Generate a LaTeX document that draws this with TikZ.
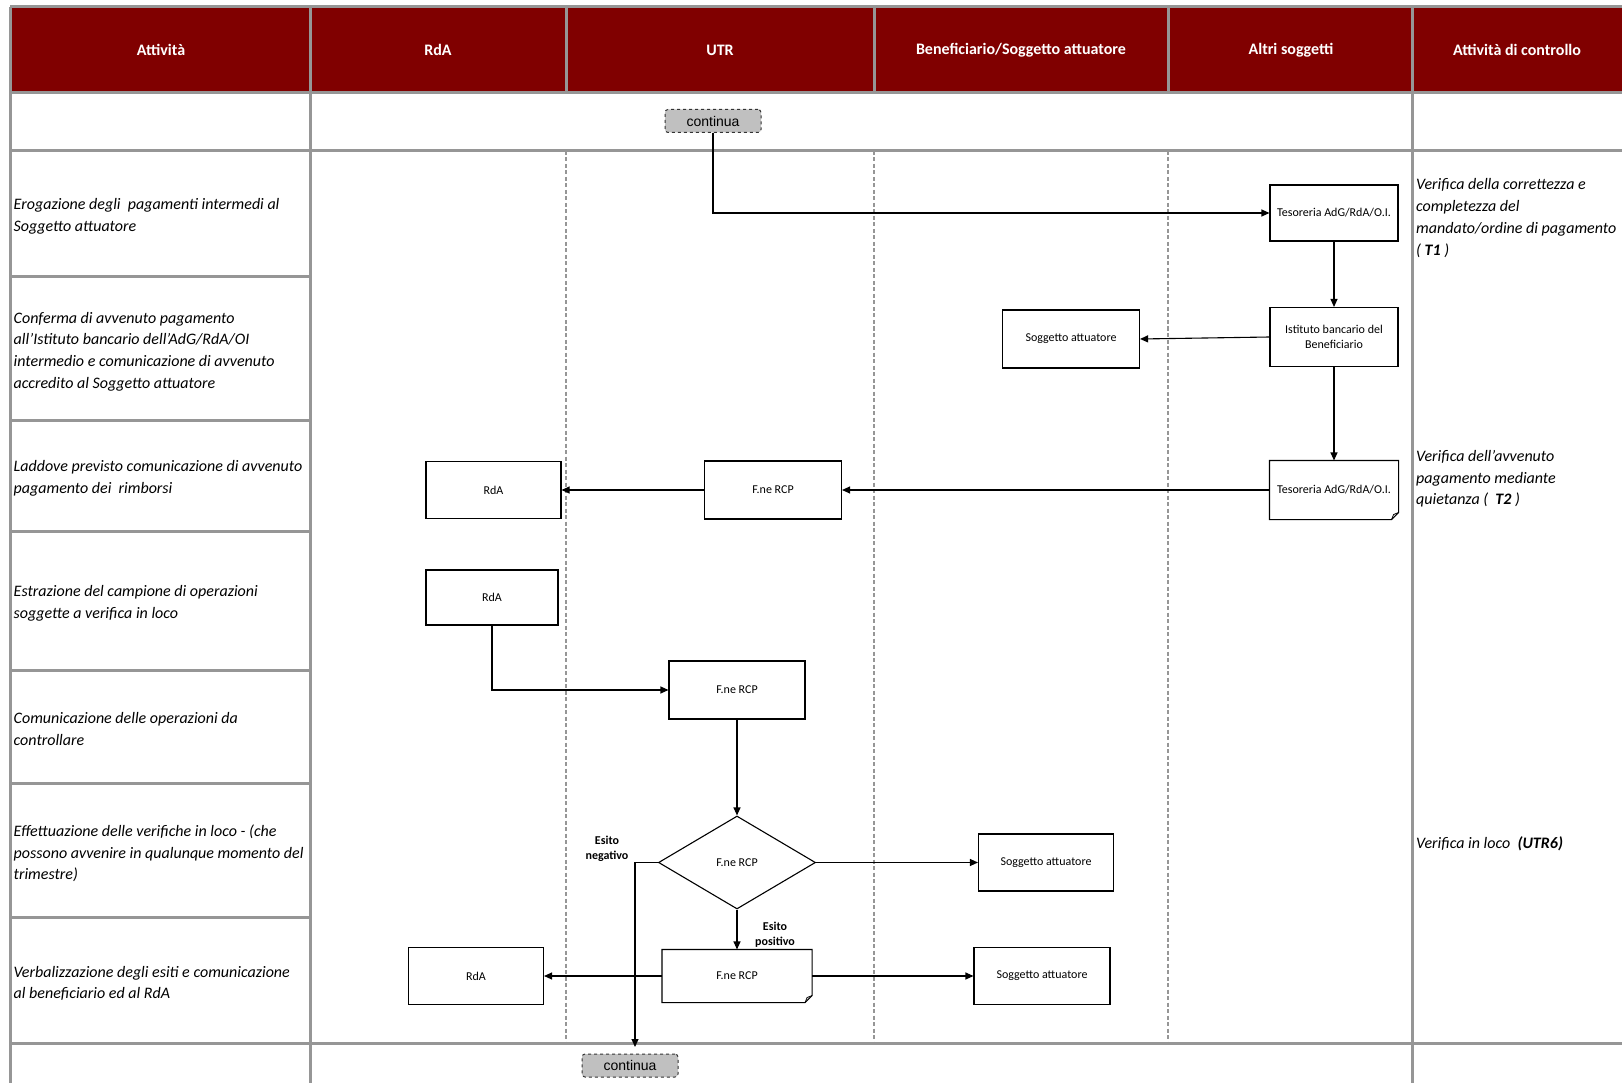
\documentclass[tikz,border=0pt]{standalone}
\usepackage{fontspec}
\setmainfont{Carlito}
\newfontfamily\arialf{Liberation Sans}
\usetikzlibrary{arrows.meta,shapes.geometric}
\definecolor{hdr}{HTML}{800000}
\definecolor{gridc}{HTML}{969696}
\definecolor{contfill}{HTML}{C0C0C0}
\begin{document}
\begin{tikzpicture}[x=1pt,y=-1pt,
 gridline/.style={draw=gridc,line width=3pt},
 lane/.style={draw=gridc,line width=1.2pt,dash pattern=on 4pt off 2.5pt},
 hdrtext/.style={text=white,font=\fontsize{16}{18}\selectfont\bfseries},
 acttext/.style={anchor=west,align=left,font=\fontsize{16}{21.7}\selectfont\itshape,inner sep=0pt},
 procbox/.style={draw=black,line width=1.1pt,rectangle,inner sep=2pt,align=center,font=\fontsize{12}{15}\selectfont},
 docbox/.style={procbox,draw=none},
 contbox/.style={draw=black!80,dashed,rounded corners=3pt,fill=contfill,line width=1pt,font=\arialf\fontsize{14}{16}\selectfont,minimum width=96pt,minimum height=23pt,inner sep=0pt},
 arr/.style={draw=black,line width=1.1pt,-{Triangle[length=8pt,width=7pt]}},
 esito/.style={align=center,font=\fontsize{12}{15}\selectfont\bfseries,inner sep=0pt}
]
\useasboundingbox (0,0) rectangle (1622,1083);
\begin{scope}
\clip (0,0) rectangle (1622,1083);
\fill[hdr] (10,7) rectangle (1622,93);
% horizontal lines
\foreach \y in {7,93,151,1043} \draw[gridline] (10,\y) -- (1622,\y);
\foreach \y in {277,420,531,670,783,917.5} \draw[gridline] (10,\y) -- (310,\y);
% vertical lines
\foreach \x in {10,310,1412} \draw[gridline] (\x,7) -- (\x,1083);
\foreach \x in {566,874,1168} \draw[gridline] (\x,7) -- (\x,93);
\foreach \x in {566,874,1168} \draw[lane] (\x,151) -- (\x,1043);
\end{scope}

% headers
\node[hdrtext] (h1) at (161,50) {Attività};
\node[hdrtext] (h2) at (438,50) {RdA};
\node[hdrtext] (h3) at (720,50) {UTR};
\node[hdrtext] (h4) at (1021,50) {Beneficiario/Soggetto attuatore};
\node[hdrtext] (h5) at (1291,50) {Altri soggetti};
\node[hdrtext] (h6) at (1517,50) {Attività di controllo};

% activity texts
\node[acttext] (a1) at (13.5,216.5) {Erogazione degli\ \ pagamenti intermedi al\\Soggetto attuatore};
\node[acttext] (a2) at (13.5,351.5) {Conferma di avvenuto pagamento\\all'Istituto bancario dell'AdG/RdA/OI\\intermedio e comunicazione di avvenuto\\accredito al Soggetto attuatore};
\node[acttext] (a3) at (13.5,478) {Laddove previsto comunicazione di avvenuto\\pagamento dei\ \ rimborsi};
\node[acttext] (a4) at (13.5,603.5) {Estrazione del campione di operazioni\\soggette a verifica in loco};
\node[acttext] (a5) at (13.5,729) {Comunicazione delle operazioni da\\controllare};
\node[acttext] (a6) at (13.5,853.5) {Effettuazione delle verifiche in loco - (che\\possono avvenire in qualunque momento del\\trimestre)};
\node[acttext] (a7) at (13.5,983.5) {Verbalizzazione degli esiti e comunicazione\\al beneficiario ed al RdA};

% control texts
\node[acttext] (c1) at (1416,218) {Verifica della correttezza e\\completezza del\\mandato/ordine di pagamento\\( \textbf{T1} )};
\node[acttext] (c2) at (1416,479) {Verifica dell'avvenuto\\pagamento mediante\\quietanza (\ \ \textbf{T2} )};
\node[acttext] (c3) at (1416,843.5) {Verifica in loco\ \ \textbf{(UTR6)}};

% flow nodes
\node[contbox] (cont1) at (713,121) {continua};
\node[procbox,minimum width=128pt,minimum height=56pt] (tes1) at (1334,213) {Tesoreria AdG/RdA/O.I.};
\node[procbox,minimum width=128pt,minimum height=59pt] (ist) at (1334,337) {Istituto bancario del\\Beneficiario};
\node[procbox,minimum width=137pt,minimum height=58pt] (sog1) at (1071,339) {Soggetto attuatore};
\node[docbox,minimum width=128pt,minimum height=58pt] (tes2) at (1334,490) {Tesoreria AdG/RdA/O.I.};
\node[procbox,minimum width=137pt,minimum height=58pt] (fne1) at (773,490) {F.ne RCP};
\node[procbox,minimum width=135pt,minimum height=57pt] (rda1) at (493.5,490) {RdA};
\node[procbox,minimum width=132pt,minimum height=55pt] (rda2) at (492,597.5) {RdA};
\node[procbox,minimum width=136pt,minimum height=58pt] (fne2) at (737,690) {F.ne RCP};
\node[diamond,draw=black,line width=1.1pt,minimum width=157pt,minimum height=93pt,inner sep=0pt,font=\fontsize{12}{15}\selectfont] (dia) at (737,862.5) {F.ne RCP};
\node[procbox,minimum width=135pt,minimum height=57pt] (sog2) at (1046,862.5) {Soggetto attuatore};
\node[docbox,minimum width=149pt,minimum height=52pt] (fne3) at (737,976) {F.ne RCP};
\node[procbox,minimum width=135pt,minimum height=57pt] (rda3) at (476,976) {RdA};
\node[procbox,minimum width=136pt,minimum height=57pt] (sog3) at (1042,976) {Soggetto attuatore};
\node[contbox] (cont2) at (630,1065.5) {continua};

% document outlines
\foreach \n in {tes2,fne3}{
  \draw[line width=1.1pt] (\n.north west) -- (\n.north east) -- ([yshift=7pt]\n.south east) -- ([xshift=-7pt]\n.south east) -- (\n.south west) -- cycle;
  \draw[line width=0.8pt] ([xshift=-7pt]\n.south east) -- ([xshift=-5pt,yshift=5pt]\n.south east) -- ([yshift=7pt]\n.south east);
}

% labels
\node[esito] (neg) at (607,849) {Esito\\negativo};
\node[esito] (pos) at (775,935) {Esito\\positivo};

% connectors
\coordinate (negend) at (635,1047);
\draw[arr] (cont1.south) |- (tes1.west);
\draw[arr] (tes1.south) -- (ist.north);
\draw[arr] (ist.west) -- (sog1.east);
\draw[arr] (ist.south) -- (tes2.north);
\draw[arr] (tes2.west) -- (fne1.east);
\draw[arr] (fne1.west) -- (rda1.east);
\draw[arr] (rda2.south) |- (fne2.west);
\draw[arr] (fne2.south) -- (dia.north);
\draw[arr] (dia.east) -- (sog2.west);
\draw[arr] (dia.south) -- (fne3.north);
\draw[arr] (dia.west) -| (negend);
\draw[arr] (fne3.west) -- (rda3.east);
\draw[arr] (fne3.east) -- (sog3.west);
\end{tikzpicture}
\end{document}
